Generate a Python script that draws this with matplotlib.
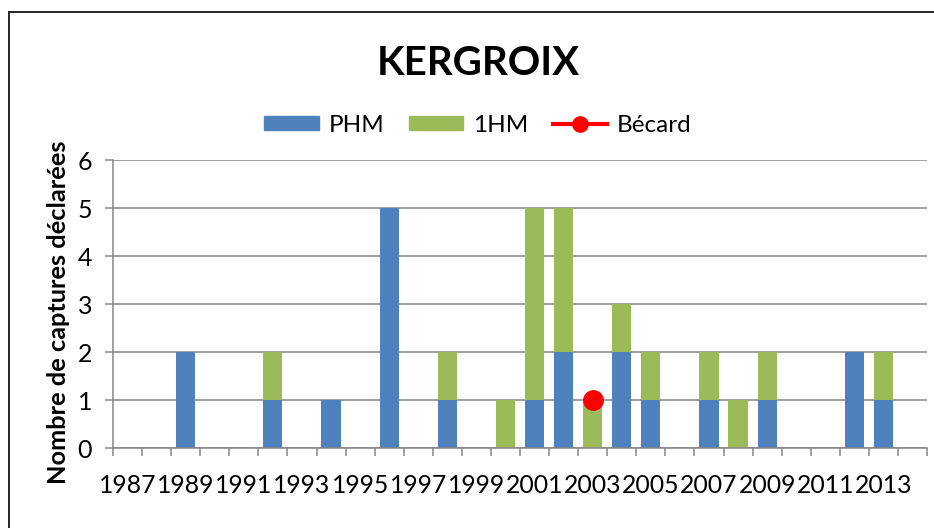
import numpy as np
import matplotlib
matplotlib.use("Agg")
import matplotlib.pyplot as plt
from matplotlib.patches import Rectangle, Patch
from matplotlib.lines import Line2D

plt.rcParams['font.family'] = ['Lato', 'DejaVu Sans']

years = list(range(1987, 2015))
phm = [0, 0, 2, 0, 0, 1, 0, 1, 0, 5, 0, 1, 0, 0, 1, 2, 0, 2, 1, 0, 1, 0, 1, 0, 0, 2, 1, 0]
hm1 = [0, 0, 0, 0, 0, 1, 0, 0, 0, 0, 0, 1, 0, 1, 4, 3, 1, 1, 1, 0, 1, 1, 1, 0, 0, 0, 1, 0]
becard = [np.nan] * 16 + [1] + [np.nan] * 11

blue = "#4F81BD"
green = "#9BBB59"
red = "#FF0000"
grid_c = "#868686"

fig = plt.figure(figsize=(9.34, 5.28), dpi=100)
ax = fig.add_axes([113 / 934, 1 - 448 / 528, 814 / 934, 288 / 528])

x = np.arange(len(years))
ax.bar(x, phm, width=0.66, color=blue, zorder=2)
ax.bar(x, hm1, width=0.66, bottom=phm, color=green, zorder=2)
ax.plot(x, becard, color=red, marker="o", markersize=14, lw=3, zorder=3)

ax.set_xlim(-0.5, len(years) - 0.5)
ax.set_ylim(0, 6)
ax.set_yticks(range(7))
ax.yaxis.grid(True, color=grid_c, lw=1.1, zorder=0)

ax.set_xticks(x[::2])
ax.set_xticklabels([str(y) for y in years[::2]])
ax.set_xticks(np.arange(-0.5, len(years)), minor=True)
ax.tick_params(axis="x", which="major", length=0, pad=19, labelsize=17.8)
ax.tick_params(axis="x", which="minor", length=6, width=1.1, color=grid_c, direction="out")
ax.tick_params(axis="y", length=6, width=1.1, color=grid_c, pad=9, labelsize=18)

for s in ["top", "right"]:
    ax.spines[s].set_visible(False)
for s in ["left", "bottom"]:
    ax.spines[s].set_color(grid_c)
    ax.spines[s].set_linewidth(1.1)

ax.set_ylabel("Nombre de captures déclarées", fontsize=18.3, fontweight="bold")
ax.yaxis.set_label_coords(-0.053, 0.47)

fig.text(478 / 934, 1 - 63 / 528, "KERGROIX", ha="center", va="center",
         fontsize=29, fontweight="bold")

handles = [Patch(color=blue), Patch(color=green),
           Line2D([], [], color=red, lw=3, marker="o", markersize=11)]
fig.legend(handles, ["PHM", "1HM", "Bécard"], loc="center",
           bbox_to_anchor=(478 / 934, 1 - 125 / 528), ncol=3, frameon=False,
           fontsize=17.5, handlelength=2.25, handleheight=0.55, columnspacing=1.0,
           handletextpad=0.4)

fig.add_artist(Rectangle((9 / 934, -0.1), 1.0, 1 - 12 / 528 + 0.1,
                         transform=fig.transFigure, fill=False,
                         edgecolor="black", lw=1.2))

fig.savefig("out.png", dpi=100)
